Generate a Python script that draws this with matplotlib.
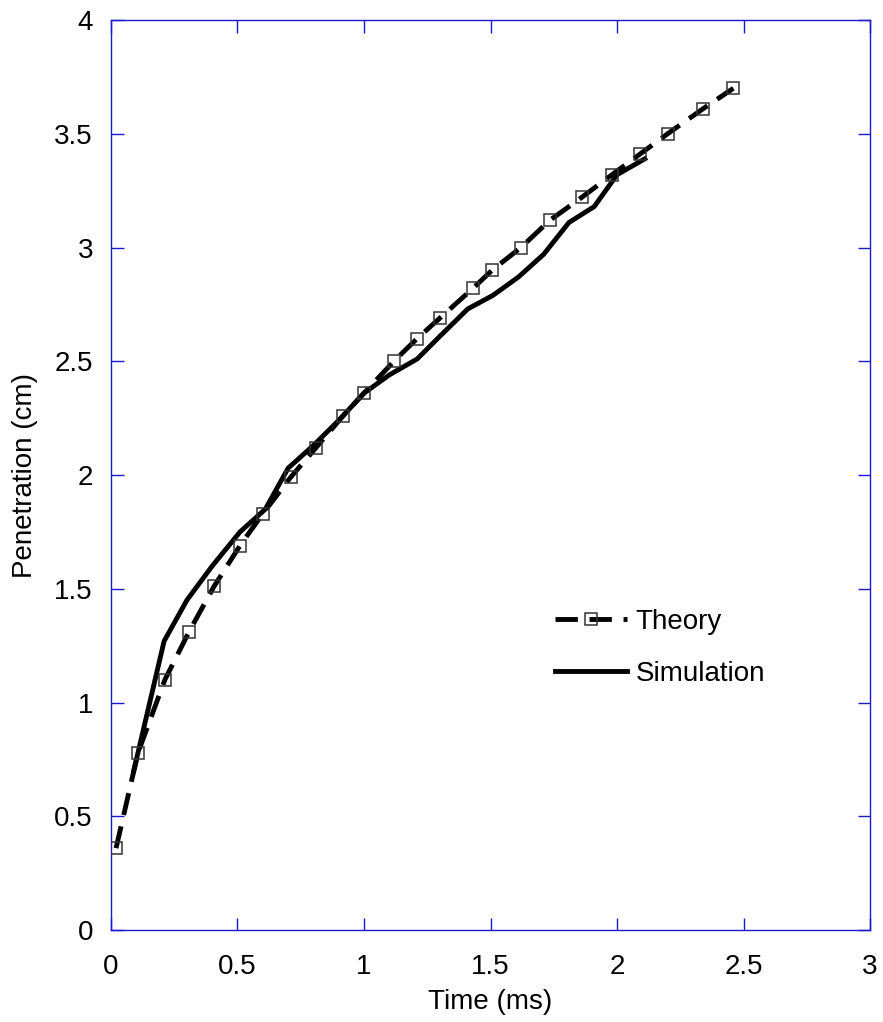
import matplotlib
matplotlib.use("Agg")
import matplotlib.pyplot as plt

# --- DATA ---
theory_t = [0.02, 0.107, 0.213, 0.308, 0.407, 0.51, 0.60, 0.71, 0.81, 0.917,
            1.00, 1.118, 1.21, 1.30, 1.43, 1.506, 1.62, 1.735, 1.86, 1.98,
            2.09, 2.20, 2.34, 2.46]
theory_p = [0.36, 0.78, 1.10, 1.31, 1.51, 1.69, 1.83, 1.99, 2.12, 2.26,
            2.36, 2.50, 2.60, 2.69, 2.82, 2.90, 3.00, 3.12, 3.22, 3.32,
            3.41, 3.50, 3.61, 3.70]

sim_t = [0.09, 0.21, 0.30, 0.40, 0.51, 0.61, 0.70, 0.80, 0.90, 1.00,
         1.10, 1.21, 1.30, 1.41, 1.51, 1.61, 1.71, 1.81, 1.91, 2.00, 2.11]
sim_p = [0.70, 1.27, 1.45, 1.60, 1.75, 1.85, 2.03, 2.13, 2.24, 2.36,
         2.44, 2.51, 2.61, 2.73, 2.79, 2.87, 2.97, 3.11, 3.18, 3.32, 3.39]

x_ticks = [0, 0.5, 1, 1.5, 2, 2.5, 3]
y_ticks = [0, 0.5, 1, 1.5, 2, 2.5, 3, 3.5, 4]

AXIS_BLUE = "#1a1acc"
FS = 20

plt.rcParams["font.family"] = ["Liberation Sans", "DejaVu Sans"]
plt.rcParams["font.size"] = FS

fig = plt.figure(figsize=(8.83, 10.22), dpi=100)
ax = fig.add_axes([0.1257, 0.090, 0.8596, 0.8904])

ax.plot(theory_t, theory_p, color="black", lw=3.5, dashes=(4.6, 2.4),
        marker="s", ms=8.5, mfc="none", mec="#333333", mew=1.1,
        label="Theory", zorder=3)
ax.plot(sim_t, sim_p, color="black", lw=3.5, label="Simulation", zorder=2)

ax.set_xlim(0, 3)
ax.set_ylim(0, 4)
ax.set_xticks(x_ticks)
ax.set_yticks(y_ticks)
ax.set_xticklabels([f"{v:g}" for v in x_ticks])
ax.set_yticklabels([f"{v:g}" for v in y_ticks])

for s in ax.spines.values():
    s.set_color(AXIS_BLUE)
    s.set_linewidth(1)

ax.tick_params(axis="both", direction="in", length=9, width=1,
               color=AXIS_BLUE, top=True, right=True, labelsize=FS)
ax.tick_params(axis="x", pad=17)
ax.tick_params(axis="y", pad=13)

ax.set_xlabel("Time (ms)", fontsize=FS, labelpad=7)
ax.set_ylabel("Penetration (cm)", fontsize=FS, labelpad=12)

ax.legend(loc="upper left", bbox_to_anchor=(0.585, 0.353), frameon=False,
          borderaxespad=0, borderpad=0, handlelength=2.6,
          handletextpad=0.3, labelspacing=0.95, fontsize=FS)

fig.savefig("out.png", dpi=100)
